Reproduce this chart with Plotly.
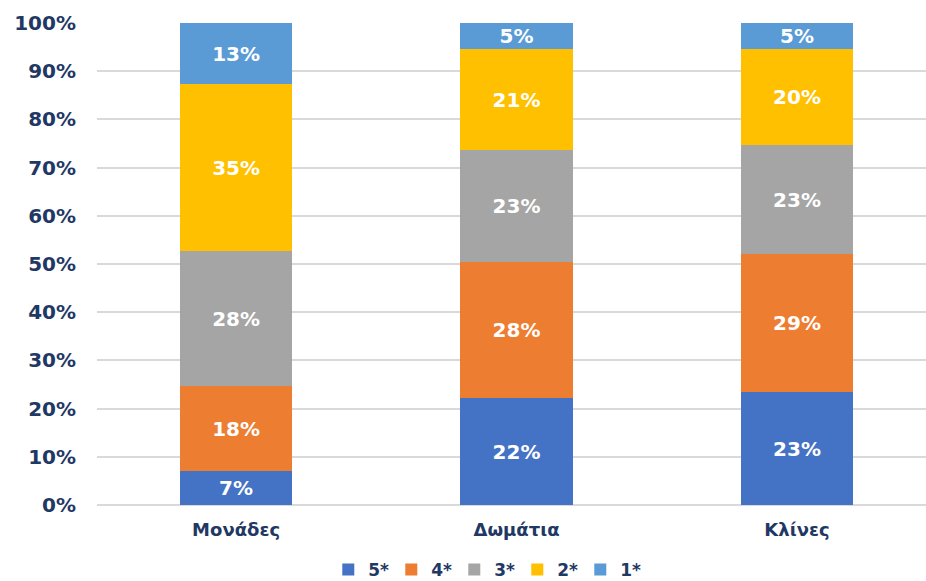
import plotly.graph_objects as go

categories = ["Μονάδες", "Δωμάτια", "Κλίνες"]
series_names = ["5*", "4*", "3*", "2*", "1*"]
values_5 = [7.0, 22.2, 23.4]
values_4 = [17.6, 28.3, 28.6]
values_3 = [28.0, 23.1, 22.6]
values_2 = [34.7, 21.0, 20.1]
values_1 = [12.7, 5.4, 5.3]
colors = ["#4472C4", "#ED7D31", "#A5A5A5", "#FFC000", "#5B9BD5"]
tick_vals = [0, 10, 20, 30, 40, 50, 60, 70, 80, 90, 100]
tick_text = [f"{v}%" for v in tick_vals]

navy = "#1F3864"
font_family = "DejaVu Sans"

fig = go.Figure()
for name, vals, col in zip(series_names, [values_5, values_4, values_3, values_2, values_1], colors):
    fig.add_trace(go.Bar(
        x=categories, y=vals, name=name,
        marker=dict(color=col, line=dict(width=0)),
        texttemplate="<b>%{y:.0f}%</b>",
        textposition="inside", insidetextanchor="middle",
        constraintext="none",
        textfont=dict(family=font_family, size=20, color="white"),
        hoverinfo="skip",
    ))

fig.update_layout(
    barmode="stack",
    bargap=0.6,
    width=926, height=581,
    margin=dict(l=97, r=0, t=23, b=76, autoexpand=False),
    plot_bgcolor="white", paper_bgcolor="white",
    font=dict(family=font_family, color=navy),
    uniformtext=dict(minsize=20, mode="show"),
    legend=dict(
        orientation="h", x=0.279, xanchor="left", y=-0.135, yanchor="middle",
        font=dict(family=font_family, size=17, color=navy, weight="bold"),
        itemwidth=30, traceorder="normal",
        entrywidth=18, entrywidthmode="pixels",
    ),
    showlegend=True,
)
fig.update_xaxes(
    range=[-0.496, 2.46],
    showgrid=False, showline=False, ticks="",
    tickfont=dict(family=font_family, size=18, color=navy, weight="bold"),
    ticklabelstandoff=12,
)
fig.update_yaxes(
    range=[0, 100], tickvals=tick_vals, ticktext=tick_text,
    showgrid=True, gridcolor="#D9D9D9", gridwidth=2,
    zeroline=True, zerolinecolor="#D9D9D9", zerolinewidth=2,
    showline=False, ticks="",
    tickfont=dict(family=font_family, size=20, color=navy, weight="bold"),
    ticklabelstandoff=20,
)

fig.write_html(
    "out.html",
    config={"displayModeBar": False},
    post_script="document.body.style.margin='0';document.body.style.overflow='hidden';",
)
